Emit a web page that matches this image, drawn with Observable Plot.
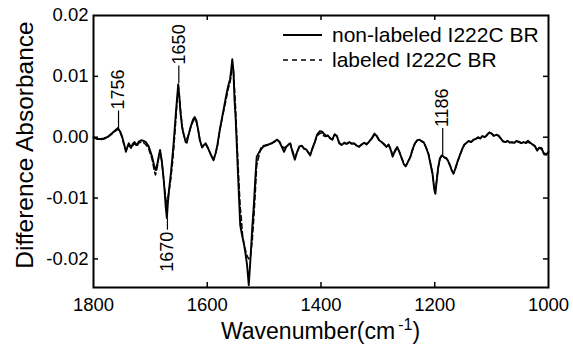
<!DOCTYPE html>
<html><head><meta charset="utf-8">
<script src="https://cdn.jsdelivr.net/npm/d3@7"></script>
<script src="https://cdn.jsdelivr.net/npm/@observablehq/plot@0.6"></script>
<style>body{margin:0;background:#fff}</style>
</head><body><div id="chart"></div>
<script>
const wavenumbers = [
 1800,1794,1788,1782,1776,1768,1762,1757,1753,1750,
 1746,1743,1740,1738,1734,1731,1728,1724,1720,1716,
 1712,1708,1703,1697,1693,1691,1688,1685,1683,1680,
 1677,1675,1673,1671,1669,1667,1664,1661,1659,1656,
 1653,1651,1649,1647,1644,1641,1638,1636,1633,1629,
 1625,1622,1619,1616,1613,1609,1606,1603,1599,1594,
 1589,1585,1582,1578,1574,1570,1566,1563,1560,1558,
 1556,1554,1552,1550,1548,1546,1544,1542,1540,1538,
 1536,1533,1530,1527,1524,1521,1518,1515,1513,1509,
 1506,1502,1498,1494,1490,1486,1482,1477,1473,1469,
 1465,1461,1457,1454,1450,1446,1442,1438,1434,1430,
 1426,1422,1419,1415,1411,1407,1402,1398,1395,1391,
 1388,1384,1380,1376,1372,1368,1364,1359,1355,1350,
 1346,1342,1337,1333,1329,1324,1320,1316,1311,1306,
 1302,1298,1293,1289,1285,1281,1277,1274,1270,1266,
 1262,1258,1254,1251,1247,1243,1239,1235,1231,1227,
 1223,1219,1215,1211,1208,1204,1201,1199,1197,1194,
 1191,1188,1186,1183,1180,1177,1173,1170,1167,1164,
 1160,1156,1152,1148,1144,1140,1136,1132,1128,1124,
 1120,1116,1112,1108,1104,1100,1096,1092,1088,1084,
 1080,1076,1072,1068,1064,1060,1056,1052,1048,1044,
 1040,1036,1032,1028,1024,1020,1016,1012,1008,1004,
 1000
];
const nonLabeled = [
 0.0000,-0.0003,-0.0003,-0.0002,0.0000,0.0006,0.0011,0.0015,0.0009,0.0002,
 -0.0012,-0.0024,-0.0015,-0.0010,-0.0017,-0.0011,-0.0008,-0.0013,-0.0007,-0.0005,
 -0.0006,-0.0008,-0.0015,-0.0032,-0.0048,-0.0054,-0.0045,-0.0030,-0.0021,-0.0038,
 -0.0065,-0.0088,-0.0115,-0.0133,-0.0105,-0.0085,-0.0060,-0.0030,-0.0008,0.0030,
 0.0065,0.0087,0.0065,0.0040,0.0015,0.0003,-0.0008,-0.0009,0.0003,0.0018,
 0.0029,0.0033,0.0027,0.0012,-0.0005,-0.0017,-0.0013,-0.0010,-0.0017,-0.0028,
 -0.0038,-0.0025,-0.0012,0.0012,0.0032,0.0052,0.0072,0.0085,0.0095,0.0110,
 0.0128,0.0110,0.0060,0.0030,-0.0015,-0.0060,-0.0103,-0.0145,-0.0155,-0.0165,
 -0.0172,-0.0190,-0.0210,-0.0243,-0.0200,-0.0150,-0.0110,-0.0060,-0.0032,-0.0025,
 -0.0021,-0.0016,-0.0014,-0.0013,-0.0011,-0.0010,-0.0007,-0.0004,-0.0008,-0.0016,
 -0.0024,-0.0016,-0.0012,-0.0010,-0.0025,-0.0037,-0.0024,-0.0015,-0.0014,-0.0019,
 -0.0020,-0.0026,-0.0030,-0.0018,-0.0008,0.0004,0.0010,0.0009,0.0006,0.0002,
 0.0003,-0.0002,-0.0004,0.0005,0.0002,-0.0010,-0.0013,-0.0009,-0.0011,-0.0008,
 -0.0011,-0.0010,-0.0014,-0.0016,-0.0012,-0.0009,-0.0012,-0.0008,-0.0002,0.0006,
 0.0002,-0.0005,-0.0008,-0.0012,-0.0016,-0.0012,-0.0022,-0.0032,-0.0022,-0.0016,
 -0.0025,-0.0035,-0.0045,-0.0048,-0.0040,-0.0033,-0.0020,-0.0010,-0.0005,-0.0004,
 -0.0007,-0.0009,-0.0018,-0.0028,-0.0042,-0.0060,-0.0085,-0.0093,-0.0075,-0.0050,
 -0.0035,-0.0030,-0.0031,-0.0033,-0.0034,-0.0038,-0.0047,-0.0055,-0.0060,-0.0052,
 -0.0040,-0.0030,-0.0020,-0.0012,-0.0009,-0.0006,-0.0008,-0.0004,-0.0003,0.0000,
 -0.0002,0.0002,0.0000,0.0004,0.0008,0.0006,0.0002,0.0004,0.0003,-0.0002,
 -0.0007,-0.0008,-0.0006,-0.0009,-0.0008,-0.0009,-0.0006,-0.0008,-0.0010,-0.0008,
 -0.0009,-0.0006,-0.0009,-0.0012,-0.0015,-0.0022,-0.0017,-0.0018,-0.0028,-0.0029,
 -0.0024
];
const labeled = [
 0.0000,-0.0002,-0.0004,-0.0003,-0.0001,0.0005,0.0010,0.0013,0.0008,0.0000,
 -0.0014,-0.0022,-0.0017,-0.0013,-0.0018,-0.0014,-0.0010,-0.0015,-0.0009,-0.0008,
 -0.0009,-0.0012,-0.0019,-0.0036,-0.0056,-0.0062,-0.0050,-0.0032,-0.0024,-0.0040,
 -0.0066,-0.0085,-0.0100,-0.0112,-0.0098,-0.0088,-0.0068,-0.0042,-0.0020,0.0018,
 0.0060,0.0085,0.0068,0.0045,0.0018,0.0002,-0.0002,-0.0003,0.0004,0.0016,
 0.0026,0.0030,0.0025,0.0012,-0.0004,-0.0016,-0.0013,-0.0011,-0.0018,-0.0028,
 -0.0037,-0.0026,-0.0014,0.0010,0.0030,0.0048,0.0066,0.0080,0.0090,0.0100,
 0.0118,0.0112,0.0080,0.0045,0.0000,-0.0040,-0.0080,-0.0115,-0.0135,-0.0160,
 -0.0175,-0.0185,-0.0195,-0.0200,-0.0196,-0.0172,-0.0132,-0.0082,-0.0046,-0.0030,
 -0.0018,-0.0014,-0.0013,-0.0012,-0.0012,-0.0009,-0.0008,-0.0005,-0.0007,-0.0014,
 -0.0018,-0.0015,-0.0012,-0.0011,-0.0022,-0.0034,-0.0025,-0.0016,-0.0013,-0.0018,
 -0.0021,-0.0025,-0.0028,-0.0019,-0.0009,0.0002,0.0006,0.0007,0.0002,0.0001,
 0.0003,-0.0001,-0.0004,0.0004,0.0002,-0.0009,-0.0012,-0.0010,-0.0011,-0.0009,
 -0.0010,-0.0011,-0.0013,-0.0015,-0.0013,-0.0009,-0.0011,-0.0008,-0.0003,0.0004,
 0.0002,-0.0004,-0.0009,-0.0011,-0.0015,-0.0013,-0.0020,-0.0030,-0.0024,-0.0017,
 -0.0024,-0.0034,-0.0044,-0.0047,-0.0041,-0.0032,-0.0021,-0.0011,-0.0006,-0.0004,
 -0.0006,-0.0009,-0.0017,-0.0027,-0.0040,-0.0058,-0.0082,-0.0090,-0.0074,-0.0051,
 -0.0036,-0.0031,-0.0030,-0.0034,-0.0035,-0.0039,-0.0046,-0.0054,-0.0059,-0.0053,
 -0.0041,-0.0031,-0.0021,-0.0013,-0.0009,-0.0007,-0.0008,-0.0005,-0.0003,-0.0001,
 -0.0002,0.0001,0.0000,0.0003,0.0007,0.0006,0.0003,0.0004,0.0002,-0.0002,
 -0.0006,-0.0008,-0.0007,-0.0008,-0.0009,-0.0009,-0.0008,-0.0007,-0.0009,-0.0009,
 -0.0010,-0.0008,-0.0010,-0.0012,-0.0014,-0.0020,-0.0018,-0.0020,-0.0026,-0.0028,
 -0.0025
];
const seriesNames = ["non-labeled I222C BR", "labeled I222C BR"];
const xTicks = [1800, 1600, 1400, 1200, 1000];
const yTicks = [-0.02, -0.01, 0, 0.01, 0.02];
const annoWavenumber = [1756, 1650, 1670, 1186];
const annoFrom = [0.0015, 0.0089, -0.0133, -0.0030];
const annoTo = [0.0044, 0.0118, -0.0152, 0.0015];
const annoLabels = ["1756", "1650", "1670", "1186"];

const W = 573, H = 345, mL = 93, mR = 25, mT = 15, mB = 58;
const pw = W - mL - mR, ph = H - mT - mB;
const font = "'Liberation Sans', Arial, Helvetica, sans-serif";

const solid = wavenumbers.map((w, i) => ({w, v: nonLabeled[i]}));
const dashed = wavenumbers.map((w, i) => ({w, v: labeled[i]}));
const annos = annoWavenumber.map((w, i) => ({w, from: annoFrom[i], to: annoTo[i], label: annoLabels[i], up: annoTo[i] > annoFrom[i]}));

const chart = Plot.plot({
  width: W, height: H,
  marginLeft: mL, marginRight: mR, marginTop: mT, marginBottom: mB,
  style: {fontFamily: font, fontSize: "18.5px", background: "#fff", color: "#000", overflow: "visible"},
  x: {domain: [1800, 1000], ticks: xTicks, tickSize: 0, tickPadding: 10, tickFormat: d => String(d), label: null},
  y: {domain: [-0.0247, 0.02], ticks: yTicks, tickSize: 0, tickPadding: 5, tickFormat: d => d.toFixed(2), label: null},
  marks: [
    Plot.tickX(xTicks.slice(1, -1), {x: d => d, insetTop: ph - 5, stroke: "#000", strokeWidth: 1.5}),
    Plot.tickX(xTicks.slice(1, -1), {x: d => d, insetBottom: ph - 5, stroke: "#000", strokeWidth: 1.5}),
    Plot.tickY(yTicks.slice(0, -1), {y: d => d, insetRight: pw - 5, stroke: "#000", strokeWidth: 1.5}),
    Plot.tickY(yTicks.slice(0, -1), {y: d => d, insetLeft: pw - 5, stroke: "#000", strokeWidth: 1.5}),
    Plot.line(dashed, {x: "w", y: "v", stroke: "#000", strokeWidth: 1.5, strokeDasharray: "5,3"}),
    Plot.line(solid, {x: "w", y: "v", stroke: "#000", strokeWidth: 1.9}),
    Plot.link(annos, {x1: "w", x2: "w", y1: "from", y2: "to", stroke: "#000", strokeWidth: 1.2}),
    Plot.text(annos.filter(d => d.up), {x: "w", y: "to", text: "label", rotate: -90, textAnchor: "start", lineAnchor: "middle", dy: -1, fontSize: 18, fill: "#000"}),
    Plot.text(annos.filter(d => !d.up), {x: "w", y: "to", text: "label", rotate: -90, textAnchor: "end", lineAnchor: "middle", dy: 2, fontSize: 18, fill: "#000"}),
    Plot.frame({stroke: "#000", strokeWidth: 2})
  ]
});
document.getElementById("chart").appendChild(chart);

const svg = d3.select(chart);
// legend
const lg = svg.append("g").attr("font-family", font).attr("font-size", 21).attr("fill", "#000").attr("text-anchor", "start");
const lx1 = 283, lx2 = 322, ly = [35, 60];
seriesNames.forEach((name, i) => {
  lg.append("line").attr("x1", lx1).attr("x2", lx2).attr("y1", ly[i]).attr("y2", ly[i])
    .attr("stroke", "#000").attr("stroke-width", i === 0 ? 1.9 : 1.5)
    .attr("stroke-dasharray", i === 0 ? null : "5,4");
  lg.append("text").attr("x", 332).attr("y", ly[i] + 7).attr("text-anchor", "start").text(name);
});
// axis titles
svg.append("text").attr("font-family", font).attr("font-size", 24.5).attr("fill", "#000")
  .attr("text-anchor", "middle").attr("transform", "translate(33,145) rotate(-90)")
  .text("Difference Absorbance");
const xl = svg.append("text").attr("font-family", font).attr("font-size", 23).attr("fill", "#000")
  .attr("text-anchor", "middle").attr("x", mL + pw / 2).attr("y", 339);
xl.append("tspan").text("Wavenumber(cm");
xl.append("tspan").attr("font-size", 16).attr("dx", 3).attr("dy", -9).text("-1");
xl.append("tspan").attr("dy", 9).text(")");
</script>
</body></html>
